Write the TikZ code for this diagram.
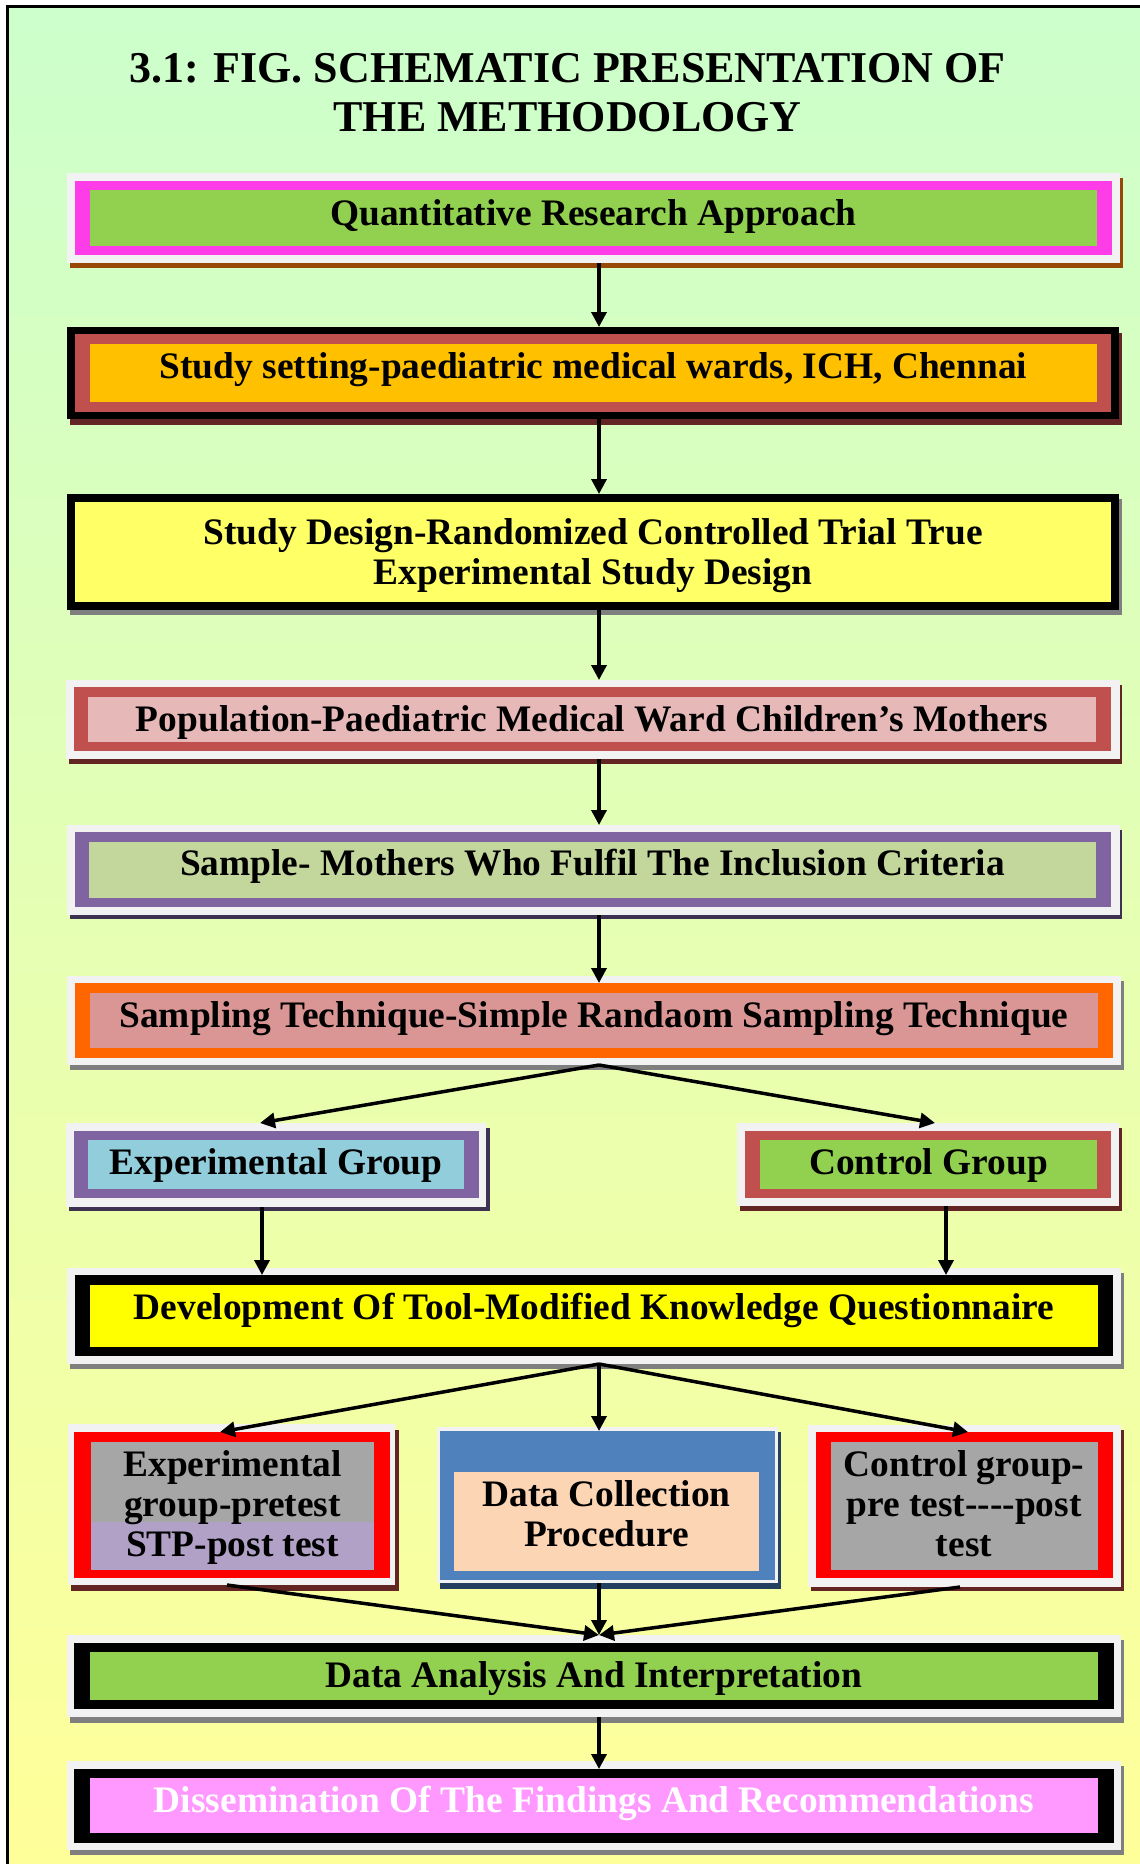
\documentclass[tikz,border=0pt]{standalone}
\usepackage{fontspec}
\setmainfont{Liberation Serif}[Ligatures=TeXOff]
\usetikzlibrary{arrows.meta,fit}
\definecolor{bgtop}{HTML}{CCFFCC}
\definecolor{bgbot}{HTML}{FFFF99}
\definecolor{frameW}{HTML}{F2F2F2}
\definecolor{cPink}{HTML}{FF3DE8}
\definecolor{cGreen}{HTML}{92D050}
\definecolor{cRed}{HTML}{C0504D}
\definecolor{cOrange}{HTML}{FFC000}
\definecolor{cYellowL}{HTML}{FFFF66}
\definecolor{cPinkL}{HTML}{E6B9B8}
\definecolor{cPurple}{HTML}{8064A2}
\definecolor{cOlive}{HTML}{C3D69B}
\definecolor{cOrangeR}{HTML}{FF6600}
\definecolor{cRose}{HTML}{D99694}
\definecolor{cBlueL}{HTML}{92CDDC}
\definecolor{cYellow}{HTML}{FFFF00}
\definecolor{cRedB}{HTML}{FF0000}
\definecolor{cGray}{HTML}{A6A6A6}
\definecolor{cLav}{HTML}{B2A1C7}
\definecolor{cBlue}{HTML}{4F81BD}
\definecolor{cPeach}{HTML}{FCD5B5}
\definecolor{cMag}{HTML}{FF99FF}
\definecolor{shBrown}{HTML}{974806}
\definecolor{shRed}{HTML}{632523}
\definecolor{shGray}{HTML}{7F7F7F}
\definecolor{shPurple}{HTML}{3F3151}
\definecolor{shBlue}{HTML}{244061}
\begin{document}
\begin{tikzpicture}[x=1pt,y=-1pt,
  lay/.style={inner sep=0pt,outer sep=0pt,draw=none},
  txt/.style={font=\fontsize{37.4}{40}\selectfont\bfseries,align=center,inner sep=0pt,text=black},
  ttl/.style={font=\fontsize{44}{48.7}\selectfont\bfseries,align=center,inner sep=0pt},
  arr/.style={line width=3.5pt,-{Triangle[length=15pt,width=15pt]}}]
\useasboundingbox (0,0) rectangle (1140,1864);
\fill[white] (0,0) rectangle (1140,1864);
\shade[top color=bgtop,bottom color=bgbot] (7,6) rectangle (1140,1864);
\draw[line width=3pt] (7,1864) -- (7,6) -- (1140,6);

% axes for connectors
\coordinate (ax) at (599,0);
\coordinate (axL) at (262,0);
\coordinate (axR) at (946,0);
\coordinate (tEG) at (260,0);
\coordinate (tCG) at (935,0);
\coordinate (tPre) at (220,0);
\coordinate (tCP) at (968,0);
\coordinate (sPre) at (227,0);
\coordinate (sCP) at (960,0);

% title
\node[ttl] (title) at (567.6,92.5) {3.1: FIG. SCHEMATIC PRESENTATION OF\\THE METHODOLOGY};

% B1 Quantitative
\fill[shBrown] (70,178) rectangle (1123,268);
\node[lay,fill=frameW,fit={(67,173) (1120,263)}] (qF) {};
\node[lay,fill=cPink,fit={(75,181) (1112,255)}] (qB) {};
\node[lay,fill=cGreen,fit={(90,190) (1097,246)}] (qI) {};
\node[txt,anchor=base] (qT) at (593.5,225) {Quantitative Research Approach};

% B2 Study setting
\fill[shRed] (70,333) rectangle (1122,425);
\node[lay,fill=black,fit={(67,327) (1119,419)}] (sF) {};
\node[lay,fill=cRed,fit={(75,334) (1111,412)}] (sB) {};
\node[lay,fill=cOrange,fit={(90,344) (1097,402)}] (sI) {};
\node[txt,anchor=base] (sT) at (593.5,378) {Study setting-paediatric medical wards, ICH, Chennai};

% B3 Study design
\fill[shGray] (70,499) rectangle (1122,615);
\node[lay,fill=black,fit={(67,494) (1119,610)}] (dF) {};
\node[lay,fill=cYellowL,fit={(75,502) (1111,602)}] (dI) {};
\node[txt] (dT) at (593,556) {Study Design-Randomized Controlled Trial True\\Experimental Study Design};

% B4 Population
\fill[shRed] (69,685) rectangle (1122,764);
\node[lay,fill=frameW,fit={(66,680) (1120,759)}] (pF) {};
\node[lay,fill=cRed,fit={(74,687) (1111,751)}] (pB) {};
\node[lay,fill=cPinkL,fit={(88,697) (1096,742)}] (pI) {};
\node[txt,anchor=base] (pT) at (592,731) {Population-Paediatric Medical Ward Children’s Mothers};

% B5 Sample
\fill[shPurple] (70,830) rectangle (1122,919);
\node[lay,fill=frameW,fit={(67,825) (1120,915)}] (saF) {};
\node[lay,fill=cPurple,fit={(75,832) (1111,907)}] (saB) {};
\node[lay,fill=cOlive,fit={(89,842) (1096,898)}] (saI) {};
\node[txt,anchor=base] (saT) at (592.5,875) {Sample- Mothers Who Fulfil The Inclusion Criteria};

% B6 Sampling technique
\fill[shGray] (70,981) rectangle (1124,1070);
\node[lay,fill=frameW,fit={(67,976) (1121,1065)}] (smF) {};
\node[lay,fill=cOrangeR,fit={(75,983) (1113,1058)}] (smB) {};
\node[lay,fill=cRose,fit={(90,993) (1098,1048)}] (smI) {};
\node[txt,anchor=base] (smT) at (594,1027) {Sampling Technique-Simple Randaom Sampling Technique};

% B7 Experimental group
\fill[shPurple] (69,1128) rectangle (490,1211);
\node[lay,fill=frameW,fit={(66,1123) (486,1207)}] (egF) {};
\node[lay,fill=cPurple,fit={(74,1131) (479,1198)}] (egB) {};
\node[lay,fill=cBlueL,fit={(88,1140) (464,1189)}] (egI) {};
\node[txt,anchor=base] (egT) at (276,1174) {Experimental Group};

% B8 Control group
\fill[shRed] (740,1128) rectangle (1122,1211);
\node[lay,fill=frameW,fit={(737,1123) (1119,1206)}] (cgF) {};
\node[lay,fill=cRed,fit={(745,1131) (1111,1198)}] (cgB) {};
\node[lay,fill=cGreen,fit={(760,1140) (1097,1189)}] (cgI) {};
\node[txt,anchor=base] (cgT) at (928.5,1174) {Control Group};

% B9 Development of tool
\fill[shGray] (70,1273) rectangle (1124,1369);
\node[lay,fill=frameW,fit={(67,1268) (1121,1364)}] (dvF) {};
\node[lay,fill=black,fit={(75,1275) (1113,1356)}] (dvB) {};
\node[lay,fill=cYellow,fit={(90,1285) (1098,1347)}] (dvI) {};
\node[txt,anchor=base] (dvT) at (594,1319) {Development Of Tool-Modified Knowledge Questionnaire};

% B10 Experimental pretest
\fill[shRed] (71,1430) rectangle (399,1591);
\node[lay,fill=frameW,fit={(68,1424) (395,1585)}] (preF) {};
\node[lay,fill=cRedB,fit={(74,1432) (390,1578)}] (preB) {};
\node[lay,fill=cGray,fit={(91,1442) (374,1522)}] (preI) {};
\node[lay,fill=cLav,fit={(91,1522) (374,1570)}] (preJ) {};
\node[txt] (preT) at (232.5,1507.5) {Experimental\\group-pretest\\STP-post test};

% B11 Data collection
\fill[shBlue] (440,1432) rectangle (781,1589);
\node[lay,fill=frameW,fit={(437,1427) (778,1583)}] (dcF) {};
\node[lay,fill=cBlue,fit={(440,1431) (775,1580)}] (dcB) {};
\node[lay,fill=cPeach,fit={(454,1472) (759,1571)}] (dcI) {};
\node[txt] (dcT) at (606.5,1513.5) {Data Collection\\Procedure};

% B12 Control pretest
\fill[shRed] (811,1430) rectangle (1124,1591);
\node[lay,fill=frameW,fit={(808,1425) (1121,1587)}] (cpF) {};
\node[lay,fill=cRedB,fit={(816,1432) (1113,1578)}] (cpB) {};
\node[lay,fill=cGray,fit={(831,1442) (1098,1570)}] (cpI) {};
\node[txt] (cpT) at (964,1503.5) {Control group-\\pre test----post\\test};

% B13 Data analysis
\fill[shGray] (70,1640) rectangle (1124,1723);
\node[lay,fill=frameW,fit={(67,1635) (1121,1717)}] (daF) {};
\node[lay,fill=black,fit={(74,1643) (1114,1709)}] (daB) {};
\node[lay,fill=cGreen,fit={(90,1652) (1098,1700)}] (daI) {};
\node[txt,anchor=base] (daT) at (594,1687) {Data Analysis And Interpretation};

% B14 Dissemination
\fill[shGray] (70,1766) rectangle (1124,1855);
\node[lay,fill=frameW,fit={(67,1761) (1121,1850)}] (diF) {};
\node[lay,fill=black,fit={(74,1769) (1114,1843)}] (diB) {};
\node[lay,fill=cMag,fit={(90,1778) (1098,1833)}] (diI) {};
\node[txt,anchor=base,text=white] (diT) at (594,1812) {Dissemination Of The Findings And Recommendations};

% connectors
\draw[arr] (qF.south -| ax) -- (sF.north -| ax);
\draw[arr] (sF.south -| ax) -- (dF.north -| ax);
\draw[arr] (dF.south -| ax) -- (pF.north -| ax);
\draw[arr] (pF.south -| ax) -- (saF.north -| ax);
\draw[arr] (saF.south -| ax) -- (smB.north -| ax);
\draw[arr] (smF.south -| ax) -- (egF.north -| tEG);
\draw[arr] (smF.south -| ax) -- (cgF.north -| tCG);
\draw[arr] (egF.south -| axL) -- (dvB.north -| axL);
\draw[arr] (cgF.south -| axR) -- (dvB.north -| axR);
\draw[arr] (dvF.south -| ax) -- (preB.north -| tPre);
\draw[arr] (dvF.south -| ax) -- (dcB.north -| ax);
\draw[arr] (dvF.south -| ax) -- (cpB.north -| tCP);
\draw[arr] (preF.south -| sPre) -- (daF.north -| ax);
\draw[arr] (dcF.south -| ax) -- (daF.north -| ax);
\draw[arr] (cpF.south -| sCP) -- (daF.north -| ax);
\draw[arr] (daF.south -| ax) -- (diB.north -| ax);
\end{tikzpicture}
\end{document}
